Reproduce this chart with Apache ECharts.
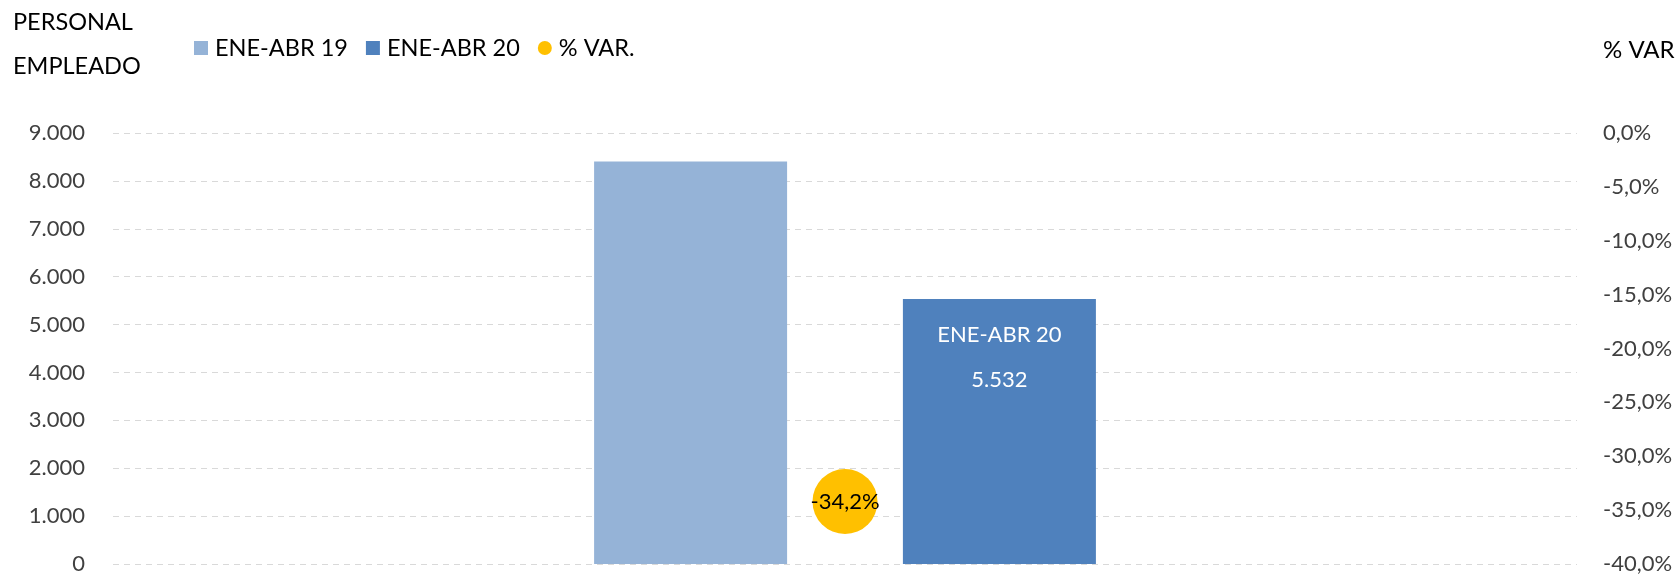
<!DOCTYPE html>
<html>
<head>
<meta charset="utf-8">
<script src="https://cdn.jsdelivr.net/npm/echarts@6/dist/echarts.min.js"></script>
<style>html,body{margin:0;padding:0;background:#fff;}#c{width:1679px;height:575px;}</style>
</head>
<body>
<div id="c"></div>
<script>
const categories = ['ENE-ABR'];
const seriesNames = ['ENE-ABR 19', 'ENE-ABR 20', '% VAR.'];
const ene19 = [8407];
const ene20 = [5532];
const pctVar = [-34.2];
const leftTicks = {min: 0, max: 9000, interval: 1000};
const rightTicks = {min: -40, max: 0, interval: 5};

const FONT = 'Lato';
function thousands(v){ return String(Math.round(v)).replace(/\B(?=(\d{3})+(?!\d))/g, '.'); }
function pct(v){ return v.toFixed(1).replace('.', ',') + '%'; }

const chart = echarts.init(document.getElementById('c'));
chart.setOption({
  animation: false,
  textStyle: {fontFamily: FONT},
  title: [
    {text: 'PERSONAL\nEMPLEADO', left: 13, top: 0, padding: 0,
     textStyle: {fontFamily: FONT, fontSize: 23.5, fontWeight: 'normal', color: '#000', lineHeight: 44}},
    {text: '% VAR', left: 1603, top: 37, padding: 0,
     textStyle: {fontFamily: FONT, fontSize: 24, fontWeight: 'normal', color: '#000', lineHeight: 26}}
  ],
  legend: {
    data: [
      {name: seriesNames[0], icon: 'rect'},
      {name: seriesNames[1], icon: 'rect'},
      {name: seriesNames[2], icon: 'circle'}
    ],
    left: 194, top: 36, padding: 0, itemWidth: 14, itemHeight: 14, itemGap: 18,
    textStyle: {fontFamily: FONT, fontSize: 23.5, color: '#000', padding: [0, 0, 0, 2]}
  },
  grid: {left: 113, right: 102, top: 133, bottom: 11, containLabel: false},
  xAxis: {
    type: 'category', data: categories,
    axisLine: {show: false}, axisTick: {show: false}, axisLabel: {show: false}
  },
  yAxis: [
    {
      type: 'value', min: leftTicks.min, max: leftTicks.max, interval: leftTicks.interval,
      axisLine: {show: false}, axisTick: {show: false},
      axisLabel: {margin: 28, fontFamily: FONT, fontSize: 22, color: '#404040', formatter: thousands},
      splitLine: {lineStyle: {type: [6, 5], color: '#d9d9d9', width: 1}}
    },
    {
      type: 'value', position: 'right', min: rightTicks.min, max: rightTicks.max, interval: rightTicks.interval,
      axisLine: {show: false}, axisTick: {show: false},
      axisLabel: {margin: 26, fontFamily: FONT, fontSize: 22, color: '#404040', formatter: pct},
      splitLine: {show: false}
    }
  ],
  series: [
    {
      name: seriesNames[0], type: 'bar', data: ene19, barWidth: 193, barGap: '60%',
      itemStyle: {color: '#95B3D7'}
    },
    {
      name: seriesNames[1], type: 'bar', data: ene20, barWidth: 193,
      itemStyle: {color: '#4F81BD'},
      label: {
        show: true, position: 'insideTop', distance: 13,
        formatter: function(p){ return p.seriesName + '\n' + thousands(p.value); },
        color: '#fff', fontFamily: FONT, fontSize: 22, lineHeight: 45
      }
    },
    {
      name: seriesNames[2], type: 'scatter', yAxisIndex: 1, data: pctVar, symbol: 'circle', symbolSize: 65,
      itemStyle: {color: '#FFC000', opacity: 1},
      label: {
        show: true, position: 'inside', formatter: function(p){ return pct(p.value); },
        color: '#000', fontFamily: FONT, fontSize: 22
      },
      z: 5
    }
  ]
});
</script>
</body>
</html>
